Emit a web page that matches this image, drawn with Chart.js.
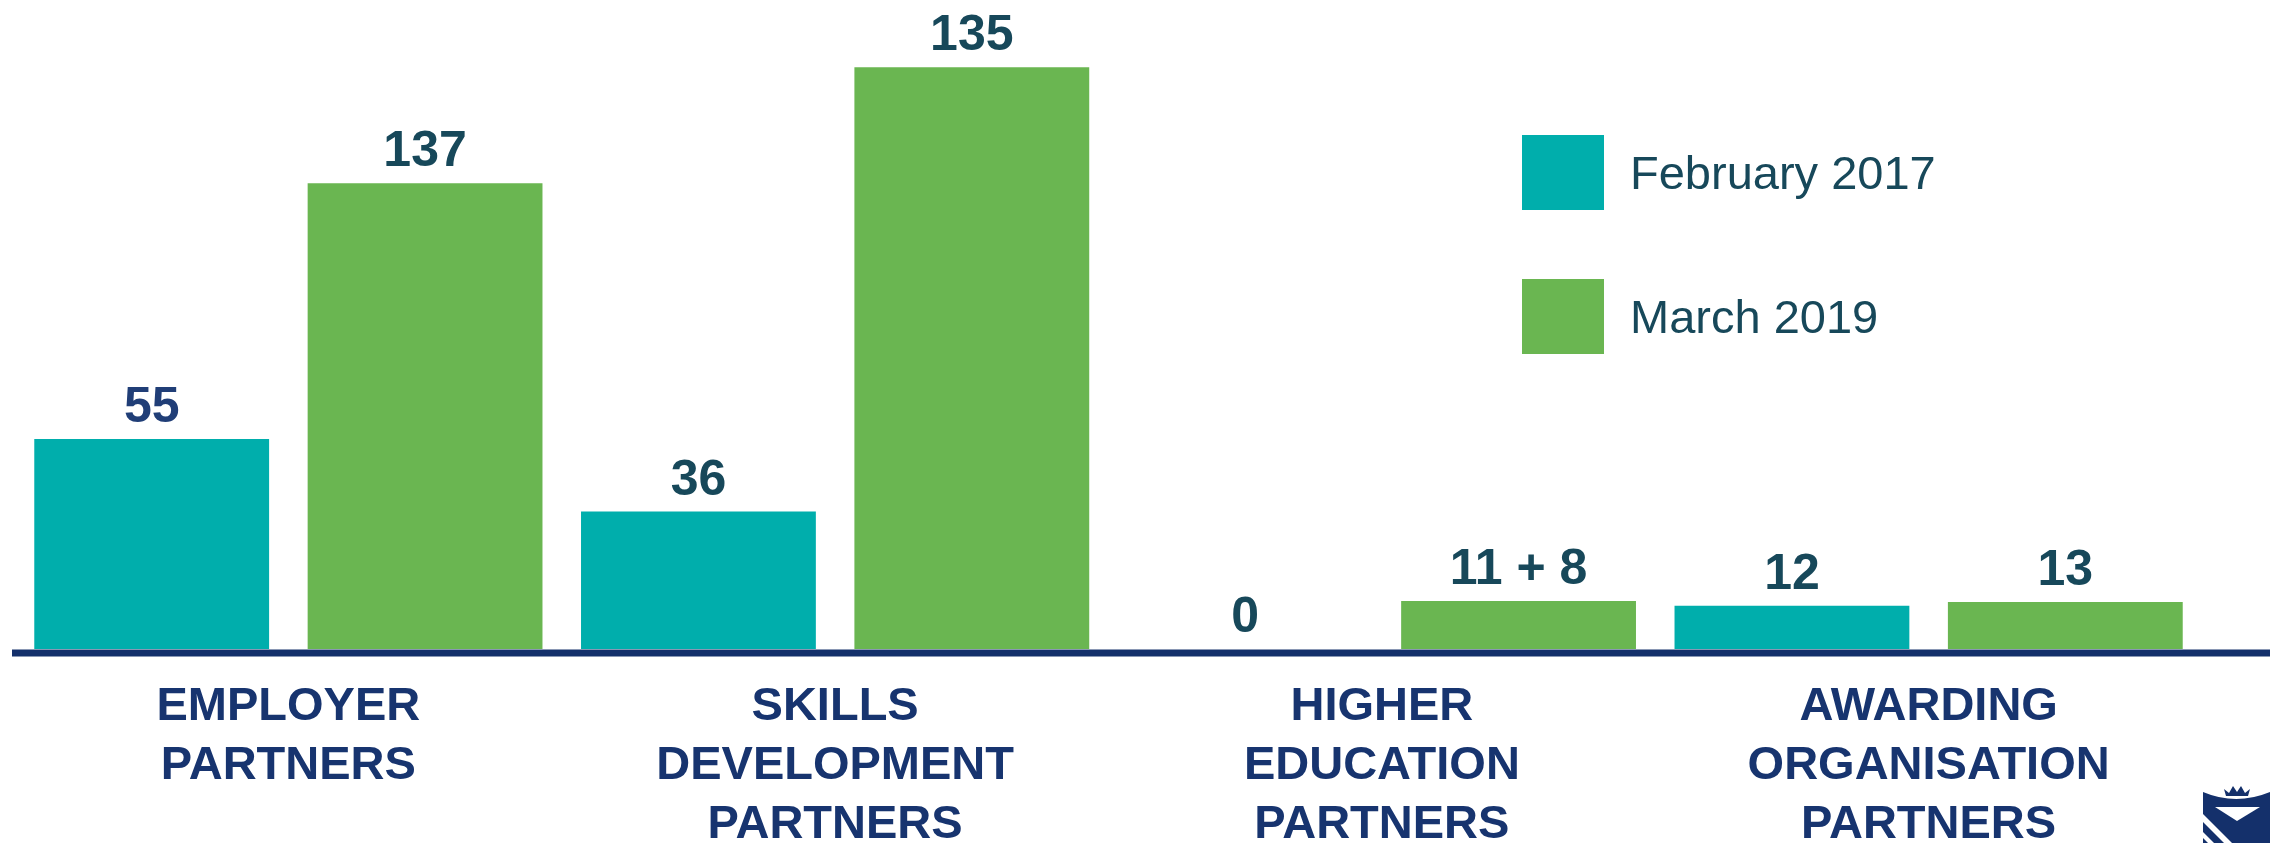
<!DOCTYPE html>
<html>
<head>
<meta charset="utf-8">
<title>Partners</title>
<script src="https://cdn.jsdelivr.net/npm/chart.js@4.4.1/dist/chart.umd.min.js"></script>
<style>
    body { margin: 0; background: #fff; }
    #wrap { position: relative; width: 2280px; height: 843px; overflow: hidden; }
    #legend { position: absolute; left: 1522px; top: 135px; font-family: "Liberation Sans", Arial, sans-serif; }
    .legend-item { display: flex; align-items: center; height: 75px; margin-bottom: 69px; }
    .legend-box { width: 82px; height: 75px; margin-right: 26px; }
    .legend-text { font-size: 47px; color: #17485a; }
    #logo { position: absolute; left: 2200px; top: 780px; }
</style>
</head>
<body>
<div id="wrap">
    <canvas id="partnersChart"></canvas>
    <div id="legend"></div>
    <svg id="logo" width="80" height="63" viewBox="0 0 80 63">
        <path d="M24 9 L29 13 L33 6 L37 12 L41 6 L45 13 L50 9 L48 16 L26 16 Z" fill="#14306b"/>
        <path d="M3 12 Q36 26 70 12 L70 63 L3 63 Z" fill="#14306b"/>
        <path d="M15 27 L60 27 L37 41 Z" fill="#fff"/>
        <path d="M3 34 L32 63 L24 63 L3 42 Z" fill="#fff"/>
        <path d="M3 52 L14 63 L8 63 L3 58 Z" fill="#fff"/>
    </svg>
</div>
<script>
// Categories and series
const categories = [
    ['EMPLOYER', 'PARTNERS'],
    ['SKILLS', 'DEVELOPMENT', 'PARTNERS'],
    ['HIGHER', 'EDUCATION', 'PARTNERS'],
    ['AWARDING', 'ORGANISATION', 'PARTNERS']
];
const seriesNames = ['February 2017', 'March 2019'];

// Bar heights as drawn in the source (its bars are not drawn to the printed figures)
const feb2017 = [55, 36, 0, 11.3];
const mar2019 = [122, 152.4, 12.6, 12.3];

// Figures printed above the bars
const feb2017Text = ['55', '36', '0', '12'];
const mar2019Text = ['137', '135', '11 + 8', '13'];

const FONT = '"Liberation Sans", Arial, sans-serif';
const TEAL = '#00aeac';
const GREEN = '#6ab651';
const NAVY = '#14306b';

// Value labels above each bar
const valueLabels = {
    id: 'valueLabels',
    afterDatasetsDraw(chart) {
        const ctx = chart.ctx;
        ctx.save();
        ctx.font = 'bold 50px ' + FONT;
        ctx.textAlign = 'center';
        ctx.textBaseline = 'alphabetic';
        chart.data.datasets.forEach(function(ds, i) {
            chart.getDatasetMeta(i).data.forEach(function(bar, j) {
                ctx.fillStyle = ds.valueColors[j];
                ctx.fillText(ds.valueText[j], bar.x, bar.y - 17);
            });
        });
        ctx.restore();
    }
};

// Heavy baseline running out to the right edge
const baseline = {
    id: 'baseline',
    afterDatasetsDraw(chart) {
        const ctx = chart.ctx;
        const y = chart.scales.y.getPixelForValue(0) + 4;
        ctx.save();
        ctx.strokeStyle = NAVY;
        ctx.lineWidth = 7;
        ctx.beginPath();
        ctx.moveTo(chart.chartArea.left - 3, y);
        ctx.lineTo(chart.width - 10, y);
        ctx.stroke();
        ctx.restore();
    }
};

const chart = new Chart(document.getElementById('partnersChart'), {
    type: 'bar',
    data: {
        labels: categories,
        datasets: [{
            label: seriesNames[0],
            data: feb2017,
            backgroundColor: TEAL,
            valueText: feb2017Text,
            valueColors: ['#203e77', '#17485a', '#17485a', '#17485a']
        }, {
            label: seriesNames[1],
            data: mar2019,
            backgroundColor: GREEN,
            valueText: mar2019Text,
            valueColors: ['#17485a', '#17485a', '#17485a', '#17485a']
        }]
    },
    options: {
        responsive: true,
        maintainAspectRatio: false,
        animation: false,
        categoryPercentage: 1.0,
        barPercentage: 0.859,
        layout: { padding: { left: 15, right: 78, top: 0, bottom: 0 } },
        plugins: {
            legend: { display: false },
            tooltip: { enabled: false }
        },
        scales: {
            x: {
                grid: { display: false, drawTicks: false },
                border: { display: false },
                ticks: {
                    color: '#17346f',
                    font: { family: FONT, size: 47, weight: 'bold', lineHeight: 1.255 },
                    padding: 29,
                    maxRotation: 0,
                    minRotation: 0,
                    autoSkip: false
                },
                afterFit: function(scale) { scale.height = 194; }
            },
            y: {
                display: false,
                min: 0,
                max: 170
            }
        }
    },
    plugins: [valueLabels, baseline]
});

// HTML legend built from the datasets
const legendEl = document.getElementById('legend');
chart.data.datasets.forEach(function(ds) {
    const item = document.createElement('div');
    item.className = 'legend-item';
    const box = document.createElement('div');
    box.className = 'legend-box';
    box.style.background = ds.backgroundColor;
    const text = document.createElement('span');
    text.className = 'legend-text';
    text.textContent = ds.label;
    item.appendChild(box);
    item.appendChild(text);
    legendEl.appendChild(item);
});
</script>
</body>
</html>
